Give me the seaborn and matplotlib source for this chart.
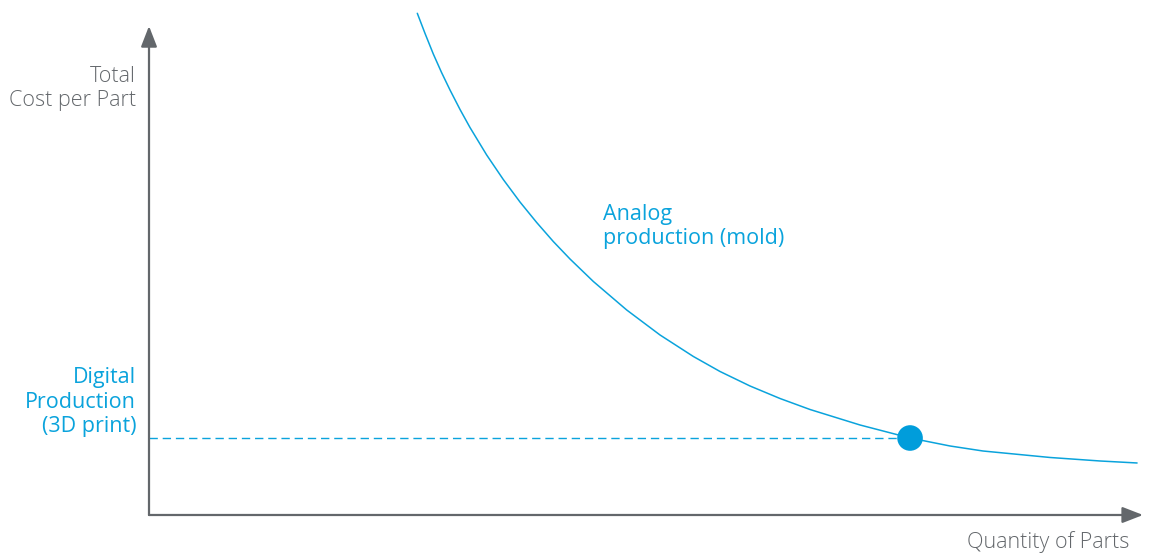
import numpy as np
import pandas as pd
import matplotlib
matplotlib.use("Agg")
import matplotlib.pyplot as plt
import seaborn as sns

# resimden okunan egri noktalari (x: adet, y: parca basi maliyet, 0-100 olcek)
analog_x = [26.99, 27.77, 28.60, 29.43, 30.28, 31.29, 32.29, 33.97, 35.64, 37.32,
            39.00, 40.67, 42.35, 44.70, 48.06, 51.41, 54.76, 57.44, 60.46, 63.48,
            66.50, 71.53, 76.56, 80.58, 83.90, 90.64, 95.67, 99.40]
analog_y = [103.02, 98.87, 94.66, 90.86, 87.27, 83.26, 79.57, 73.92, 68.89, 64.27,
            60.06, 56.16, 52.57, 47.95, 42.09, 36.96, 32.55, 29.47, 26.49, 23.92,
            21.66, 18.48, 15.81, 14.17, 13.14, 11.81, 11.09, 10.68]
digital_cost = 15.81
break_even_x = 76.56

y_label = "Total\nCost per Part"
x_label = "Quantity of Parts"
digital_label = "Digital\nProduction\n(3D print)"
analog_label = "Analog\nproduction (mold)"

blue = "#0aa3dc"
gray = "#63676b"

sns.set_style("white")
plt.rcParams["font.family"] = ["Open Sans", "DejaVu Sans"]

fig = plt.figure(figsize=(11.52, 5.54), dpi=100)
ax = fig.add_axes([0, 0, 1, 1])
ax.set_xlim(-14.99, 100.9)
ax.set_ylim(-8.01, 105.75)
ax.axis("off")

veri = pd.DataFrame({"x": analog_x, "y": analog_y})
sns.lineplot(data=veri, x="x", y="y", ax=ax, color=blue, linewidth=1.1, sort=False)

# kesikli cizgi
ax.plot([0, break_even_x], [digital_cost, digital_cost], color=blue, lw=1.0,
        dashes=(6, 3.5))
sns.scatterplot(x=[break_even_x], y=[digital_cost], ax=ax, color="#009ddb", s=340,
                edgecolor="none", zorder=5)

# eksen oklari
arrow = dict(arrowstyle="-|>,head_length=0.9,head_width=0.35", color=gray, lw=1.6,
             shrinkA=0, shrinkB=0, mutation_scale=14)
ax.annotate("", xy=(100, 0), xytext=(0, 0), arrowprops=arrow)
ax.annotate("", xy=(0, 100.4), xytext=(0, 0), arrowprops=arrow)

ax.text(-1.3, 87.5, y_label, ha="right", va="center", fontsize=15.5,
        color=gray, fontweight="light", linespacing=1.2)
ax.text(98.6, -5.5, x_label, ha="right", va="center", fontsize=15.5,
        color=gray, fontweight="light")
ax.text(-1.3, 23.2, digital_label, ha="right", va="center", fontsize=15.5,
        color=blue, linespacing=1.2)
ax.text(45.67, 59.3, analog_label, ha="left", va="center", fontsize=15.5,
        color=blue, linespacing=1.2)

fig.savefig("out.png", dpi=100)
